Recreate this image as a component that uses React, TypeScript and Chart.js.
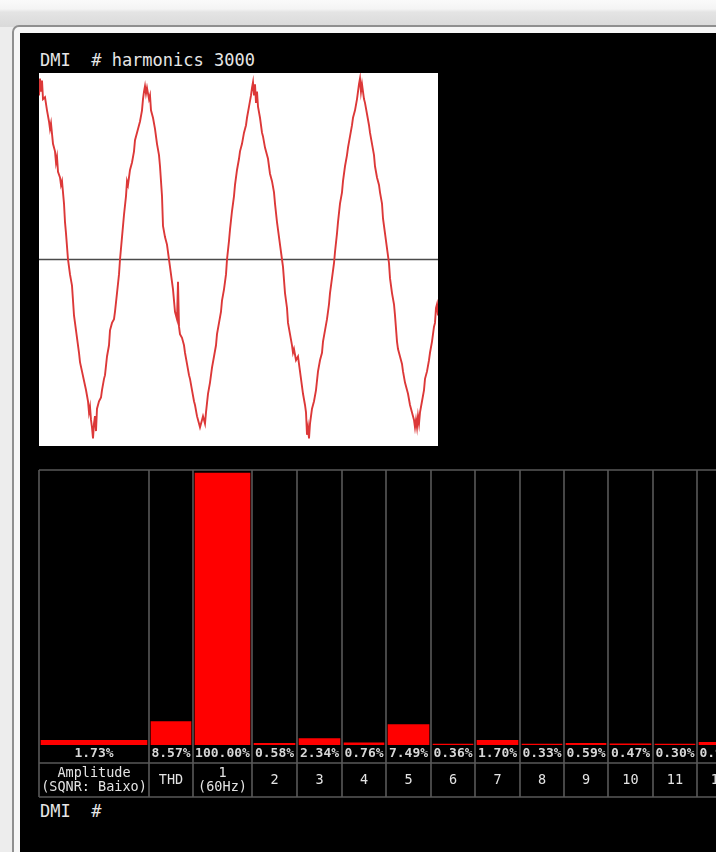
import React, { useEffect, useRef } from "react";
import { Chart, registerables } from "chart.js";

Chart.register(...registerables);

// ---------- data ----------
const titleText = "DMI  # harmonics 3000";
const promptText = "DMI  #";

// waveform samples: [time, amplitude]
const waveSamples: [number, number][] = [
  [0, 88], [1, 97], [2, 90], [3, 96], [4, 86], [6, 87], [8, 80], [10, 74], [11, 70], [12, 73],
  [14, 62], [16, 58], [17, 52], [18, 55], [19, 47], [21, 44], [22, 40], [23, 42], [25, 30], [26, 20],
  [27, 14], [29, 0], [31, -8], [33, -14], [34, -22], [35, -30], [37, -38], [38, -42], [40, -50], [41, -55],
  [43, -60], [45, -65], [47, -70], [49, -76], [50, -82], [51, -79], [52, -86], [53, -90], [54, -96], [55, -88],
  [56, -84], [57, -92], [58, -80], [60, -76], [62, -74], [63, -70], [65, -64], [66, -62], [68, -52], [70, -46],
  [71, -38], [73, -34], [75, -32], [76, -28], [78, -18], [80, -8], [81, 0], [83, 12], [85, 24], [87, 34],
  [88, 42], [89, 40], [91, 48], [93, 52], [95, 58], [96, 64], [98, 68], [100, 72], [101, 74], [103, 80],
  [104, 86], [105, 90], [106, 93], [107, 89], [108, 92], [110, 86], [111, 88], [112, 80], [114, 76], [116, 70],
  [118, 62], [120, 56], [121, 50], [123, 34], [124, 18], [126, 12], [128, 8], [130, 0], [131, -4], [133, -12],
  [134, -16], [136, -28], [138, -32], [139, -12], [140, -36], [141, -40], [143, -42], [145, -46], [146, -50], [148, -56],
  [150, -62], [151, -64], [153, -70], [155, -76], [156, -78], [158, -84], [160, -88], [161, -90], [163, -86], [164, -84],
  [166, -88], [167, -82], [169, -72], [171, -66], [173, -58], [175, -52], [177, -46], [178, -40], [180, -34], [182, -28],
  [183, -22], [185, -16], [187, -8], [188, 0], [190, 10], [191, 16], [193, 26], [195, 34], [196, 40], [198, 48],
  [200, 54], [201, 58], [203, 62], [205, 68], [207, 72], [208, 76], [210, 82], [212, 88], [213, 92], [214, 95],
  [215, 88], [216, 94], [217, 84], [218, 90], [219, 82], [221, 76], [223, 68], [224, 66], [226, 60], [228, 56],
  [229, 54], [231, 46], [233, 42], [235, 36], [236, 30], [238, 20], [240, 12], [241, 8], [243, 0], [244, -4],
  [246, -18], [248, -26], [249, -34], [251, -40], [253, -46], [254, -50], [255, -48], [257, -54], [259, -52], [261, -60],
  [263, -68], [264, -72], [266, -78], [267, -82], [268, -94], [269, -90], [270, -96], [271, -88], [273, -80], [275, -76],
  [277, -70], [279, -60], [281, -54], [283, -50], [284, -44], [286, -38], [288, -32], [290, -24], [291, -18], [293, -10],
  [295, -2], [296, 4], [298, 14], [299, 20], [301, 30], [303, 36], [304, 42], [306, 50], [308, 56], [309, 60],
  [311, 66], [313, 72], [314, 76], [316, 80], [318, 86], [319, 90], [320, 94], [321, 97], [322, 90], [323, 94],
  [325, 86], [326, 84], [328, 78], [330, 72], [331, 68], [333, 62], [335, 56], [336, 50], [338, 44], [340, 40],
  [341, 36], [343, 30], [344, 22], [346, 14], [348, 6], [350, -2], [351, -10], [353, -18], [355, -24], [356, -30],
  [358, -44], [359, -48], [361, -52], [363, -56], [364, -60], [366, -66], [368, -70], [369, -72], [371, -78], [373, -82],
  [375, -86], [376, -90], [377, -86], [378, -90], [379, -84], [380, -88], [381, -82], [383, -76], [385, -70], [386, -64],
  [388, -60], [390, -54], [391, -50], [393, -44], [395, -36], [396, -34], [397, -26], [398, -24], [399, -30],
];
const waveZero = 0;

const harmonicCategories: string[][] = [
  ["Amplitude", "(SQNR: Baixo)"],
  ["THD"],
  ["1", "(60Hz)"],
  ["2"], ["3"], ["4"], ["5"], ["6"], ["7"], ["8"], ["9"], ["10"], ["11"], ["12"],
];
const harmonicValues = [1.73, 8.57, 100.0, 0.58, 2.34, 0.76, 7.49, 0.36, 1.7, 0.33, 0.59, 0.47, 0.3, 0.95];

// ---------- layout (pixels) ----------
const COLUMN_WIDTHS = [110, 44, 59, 45, 45, 44, 45, 44, 45, 44, 44, 45, 44, 44];
const BAR_INSET = 2;
const PLOT_WIDTH = 677;
const Y_MAX = 101.1;

const MONO = '"DejaVu Sans Mono", monospace';

export default function App() {
  const waveRef = useRef<HTMLCanvasElement>(null);
  const barRef = useRef<HTMLCanvasElement>(null);

  useEffect(() => {
    const wave = new Chart(waveRef.current!, {
      type: "line",
      data: {
        datasets: [
          {
            data: waveSamples.map(([x, y]) => ({ x, y })),
            borderColor: "#dc3838",
            borderWidth: 1.9,
            pointRadius: 0,
            tension: 0,
          },
          {
            data: [
              { x: 0, y: waveZero },
              { x: 399, y: waveZero },
            ],
            borderColor: "#4a4a4a",
            borderWidth: 1.5,
            pointRadius: 0,
          },
        ],
      },
      options: {
        responsive: false,
        animation: false,
        layout: { padding: 0 },
        plugins: { legend: { display: false }, tooltip: { enabled: false } },
        scales: {
          x: { type: "linear", min: 0, max: 399, display: false },
          y: { type: "linear", min: -100, max: 100, display: false },
        },
      },
    });

    const edges: number[] = [0];
    COLUMN_WIDTHS.forEach((w) => edges.push(edges[edges.length - 1] + w));
    const centers = COLUMN_WIDTHS.map((w, i) => edges[i] + w / 2);

    const gridPlugin = {
      id: "harmGrid",
      beforeDatasetsDraw(chart: any) {
        const { ctx, chartArea, scales } = chart;
        const top = chartArea.top;
        const base = chartArea.bottom;
        const bottom = base + 52;
        ctx.save();
        ctx.strokeStyle = "#595959";
        ctx.lineWidth = 1.6;
        edges.forEach((e) => {
          const px = Math.round(scales.x.getPixelForValue(e));
          ctx.beginPath();
          ctx.moveTo(px, top);
          ctx.lineTo(px, bottom);
          ctx.stroke();
        });
        [top, base + 18, bottom].forEach((y) => {
          ctx.beginPath();
          ctx.moveTo(scales.x.getPixelForValue(0), y);
          ctx.lineTo(chart.width, y);
          ctx.stroke();
        });
        ctx.restore();
      },
      afterDatasetsDraw(chart: any) {
        const { ctx, chartArea, scales } = chart;
        const base = chartArea.bottom;
        ctx.save();
        ctx.textAlign = "center";
        ctx.textBaseline = "middle";
        harmonicValues.forEach((v, i) => {
          const px = scales.x.getPixelForValue(centers[i]);
          ctx.fillStyle = "#d6d6d6";
          ctx.font = `bold 13px ${MONO}`;
          ctx.fillText(v.toFixed(2) + "%", px, base + 9);
          const lines = harmonicCategories[i];
          ctx.fillStyle = "#e4e4e4";
          ctx.font = `13.5px ${MONO}`;
          if (lines.length === 1) {
            ctx.fillText(lines[0], px, base + 35);
          } else {
            ctx.fillText(lines[0], px, base + 28);
            ctx.fillText(lines[1], px, base + 42);
          }
        });
        ctx.restore();
      },
    };

    const bars = new Chart(barRef.current!, {
      type: "bar",
      data: {
        datasets: harmonicValues.map((v, i) => ({
          data: [{ x: centers[i], y: v }],
          backgroundColor: "#ff0000",
          borderWidth: 0,
          grouped: false,
          barThickness: COLUMN_WIDTHS[i] - 2 * BAR_INSET,
        })) as any,
      },
      options: {
        responsive: false,
        animation: false,
        layout: { padding: { left: 2, right: 0, top: 2, bottom: 55 } },
        plugins: { legend: { display: false }, tooltip: { enabled: false } },
        scales: {
          x: { type: "linear", min: 0, max: PLOT_WIDTH, offset: false, display: false },
          y: { type: "linear", min: 0, max: Y_MAX, display: false },
        },
      },
      plugins: [gridPlugin],
    });

    return () => {
      wave.destroy();
      bars.destroy();
    };
  }, []);

  const textStyle: React.CSSProperties = {
    position: "absolute",
    left: 40,
    fontFamily: MONO,
    fontSize: 17,
    lineHeight: "20px",
    color: "#e6e6e6",
    whiteSpace: "pre",
  };

  return (
    <div
      style={{
        position: "fixed",
        left: 0,
        top: 0,
        width: 716,
        height: 852,
        overflow: "hidden",
        background: "#ededed",
      }}
    >
      <div
        style={{
          position: "absolute",
          left: 0,
          top: 0,
          width: 716,
          height: 27,
          background:
            "linear-gradient(to bottom, #fafafa 0px, #f4f4f4 9px, #e4e4e4 12px, #dadada 26px)",
        }}
      />
      <div
        style={{
          position: "absolute",
          left: 12,
          top: 25,
          width: 760,
          height: 900,
          border: "2px solid #8f8f8f",
          borderRadius: 7,
          background: "#f6f6f6",
        }}
      />
      <div
        style={{
          position: "absolute",
          left: 20,
          top: 33,
          right: 0,
          bottom: 0,
          background: "#000000",
        }}
      />
      <div style={{ ...textStyle, top: 50 }}>{titleText}</div>
      <canvas
        ref={waveRef}
        width={399}
        height={373}
        style={{ position: "absolute", left: 39, top: 73, background: "#ffffff" }}
      />
      <canvas
        ref={barRef}
        width={679}
        height={332}
        style={{ position: "absolute", left: 37, top: 468 }}
      />
      <div style={{ ...textStyle, top: 801 }}>{promptText}</div>
    </div>
  );
}
